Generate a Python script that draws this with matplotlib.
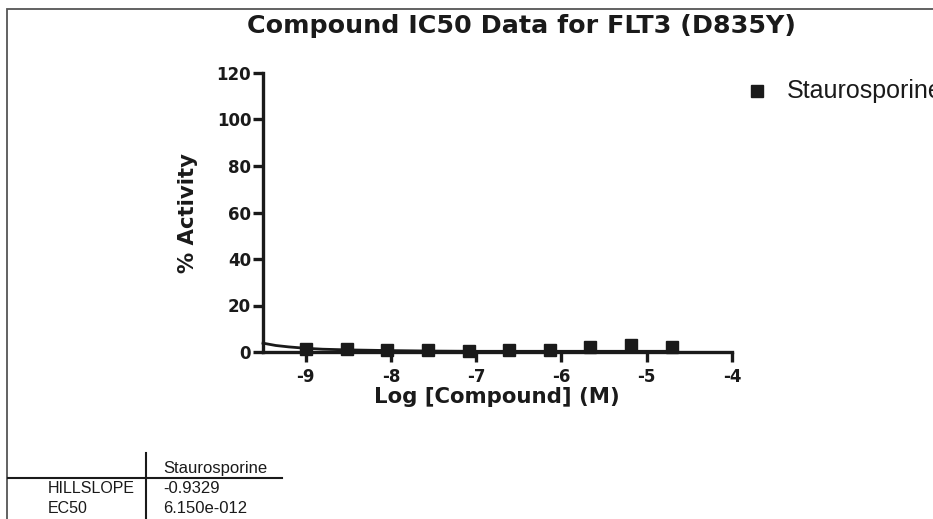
import matplotlib
matplotlib.use('Agg')
import matplotlib.pyplot as plt
from matplotlib.patches import Rectangle

plt.rcParams['font.family'] = ['Liberation Sans', 'DejaVu Sans']
BOLD = ['DejaVu Sans']  # wider bold face, closer to the stretched look of the original

# data
log_conc = [-9.0, -8.52, -8.05, -7.57, -7.09, -6.61, -6.14, -5.66, -5.18, -4.70]
activity = [1.3, 1.3, 0.7, 1.0, 0.3, 0.9, 1.0, 2.1, 3.0, 2.1]
fit_x = [-9.5, -9.35, -9.2, -9.0, -8.8, -8.5, -8.0, -7.5, -7.0, -6.0, -5.0, -4.7]
fit_y = [3.8, 2.8, 2.2, 1.6, 1.2, 0.9, 0.6, 0.4, 0.3, 0.3, 0.3, 0.3]

xticks = [-9, -8, -7, -6, -5, -4]
yticks = [0, 20, 40, 60, 80, 100, 120]

table_rows = ['HILLSLOPE', 'EC50']
table_vals = ['-0.9329', '6.150e-012']
series_name = 'Staurosporine'

W, H = 933, 519
ink = '#1a1a1a'
fig = plt.figure(figsize=(W / 100, H / 100), dpi=100)
fig.patch.set_facecolor('white')

def fx(px):
    return px / W

def fy(py):
    return 1 - py / H

# outer frame (cut by the image edge on right and bottom)
fig.patches.append(Rectangle((fx(7), -0.2), 2.0, fy(9) + 0.2,
                             transform=fig.transFigure, fill=False,
                             edgecolor='#555555', linewidth=1.3))

ax = fig.add_axes([fx(263), fy(352), (732 - 263) / W, (352 - 73) / H])
ax.plot(fit_x, fit_y, color=ink, linewidth=2.0, clip_on=False, zorder=3)
ax.plot(log_conc, activity, linestyle='none', marker='s', markersize=9,
        color=ink, clip_on=False, zorder=4)

ax.set_xlim(-9.5, -4)
ax.set_ylim(0, 120)
ax.set_xticks(xticks)
ax.set_yticks(yticks)
ax.set_xticklabels([str(t) for t in xticks])
ax.set_yticklabels([str(t) for t in yticks])

for s in ['top', 'right']:
    ax.spines[s].set_visible(False)
for s in ['left', 'bottom']:
    ax.spines[s].set_linewidth(2.4)
    ax.spines[s].set_color(ink)
    ax.spines[s].set_capstyle('projecting')
ax.tick_params(axis='both', direction='out', length=7.5, width=2.4,
               color=ink, labelsize=12)
ax.tick_params(axis='x', pad=4)
ax.tick_params(axis='y', pad=1)
for lab in ax.get_xticklabels() + ax.get_yticklabels():
    lab.set_fontweight('bold')
    lab.set_family(BOLD)
    lab.set_color(ink)

fig.text(fx(497), fy(403), 'Log [Compound] (M)', ha='center', va='baseline',
         fontsize=15.3, fontweight='bold', family=BOLD, color=ink)
fig.text(fx(188), fy(213), '% Activity', ha='center', va='center', rotation=90,
         fontsize=15.3, fontweight='bold', family=BOLD, color=ink)

fig.text(fx(521), fy(33), 'Compound IC50 Data for FLT3 (D835Y)', ha='center', va='baseline',
         fontsize=18.3, fontweight='bold', family=BOLD, color=ink)

# legend entry
fig.lines.append(plt.Line2D([fx(757)], [fy(91)], transform=fig.transFigure,
                            marker='s', markersize=8, color=ink, linestyle='none'))
fig.text(fx(787), fy(91), series_name, ha='left', va='center', fontsize=18, color=ink)

# results table
fig.lines.append(plt.Line2D([fx(146), fx(146)], [fy(453), -0.05], transform=fig.transFigure,
                            color=ink, linewidth=1.5))
fig.lines.append(plt.Line2D([fx(8), fx(282)], [fy(478), fy(478)], transform=fig.transFigure,
                            color=ink, linewidth=1.5))
fig.text(fx(163), fy(473), series_name, ha='left', va='baseline', fontsize=12, color=ink)
for i, (r, v) in enumerate(zip(table_rows, table_vals)):
    y = fy(493 + 20 * i)
    fig.text(fx(48), y, r, ha='left', va='baseline', fontsize=11.5, color=ink)
    fig.text(fx(163), y, v, ha='left', va='baseline', fontsize=12, color=ink)

fig.savefig('out.png', dpi=100)
